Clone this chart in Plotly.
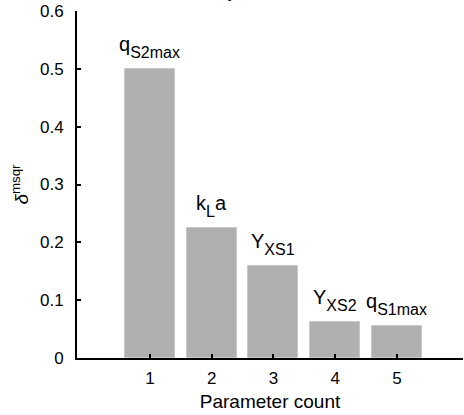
import plotly.graph_objects as go

param_count = [1, 2, 3, 4, 5]
delta_msqr = [0.5, 0.225, 0.159, 0.063, 0.056]
label_main = ["q", "k", "Y", "Y", "q"]
label_sub = ["S2max", "L", "XS1", "XS2", "S1max"]
label_tail = ["", "a", "", "", ""]
y_ticks = [0, 0.1, 0.2, 0.3, 0.4, 0.5, 0.6]
y_tick_text = ["0", "0.1", "0.2", "0.3", "0.4", "0.5", "0.6"]
title_text = "Outputs: X, S1, S2"

font_family = "Liberation Sans, Arial, sans-serif"
SUB = 16
MAIN = 20


def raised(s):
    return f"<sup><span style='font-size:{MAIN}px'>{s}</span></sup>" if s else ""


fig = go.Figure()
fig.add_trace(go.Bar(
    x=param_count, y=delta_msqr, width=0.81,
    marker=dict(color="#b0b0b0", line=dict(color="#c8c8c8", width=1)),
    showlegend=False, hoverinfo="skip",
))

for xv, yv, m, s, t in zip(param_count, delta_msqr, label_main, label_sub, label_tail):
    text = raised(m) + s + raised(t)
    fig.add_annotation(x=xv, y=yv, xref="x", yref="y", text=text, showarrow=False,
                       yanchor="bottom", xanchor="center", yshift=6,
                       font=dict(family=font_family, size=SUB, color="black"))

fig.add_annotation(x=0.51, y=1, xref="paper", yref="paper", text="<b>" + title_text + "</b>",
                   showarrow=False, yanchor="bottom", xanchor="center", yshift=8,
                   font=dict(family=font_family, size=18, color="black"))

fig.update_layout(
    width=464, height=415,
    margin=dict(l=77, r=1, t=11, b=57),
    plot_bgcolor="white", paper_bgcolor="white",
    font=dict(family=font_family, size=16, color="black"),
    bargap=0,
)
fig.update_xaxes(
    range=[-0.18, 6.07], tickvals=param_count, ticktext=[str(v) for v in param_count],
    ticks="inside", ticklen=4, tickwidth=1.5, tickcolor="black",
    showline=True, linecolor="black", linewidth=2, showgrid=False, zeroline=False,
    title=dict(text="Parameter count", font=dict(size=19, color="black"), standoff=7),
    tickfont=dict(size=17, color="black"), ticklabelstandoff=4,
)
fig.update_yaxes(
    range=[0, 0.6], tickvals=y_ticks, ticktext=y_tick_text,
    ticks="inside", ticklen=4, tickwidth=1.5, tickcolor="black",
    showline=True, linecolor="black", linewidth=2, showgrid=False, zeroline=False,
    title=dict(text="<i>δ</i><sup>msqr</sup>", font=dict(size=19, color="black"), standoff=6),
    tickfont=dict(size=17, color="black"), ticklabelstandoff=8,
)

fig.write_html("out.html")
